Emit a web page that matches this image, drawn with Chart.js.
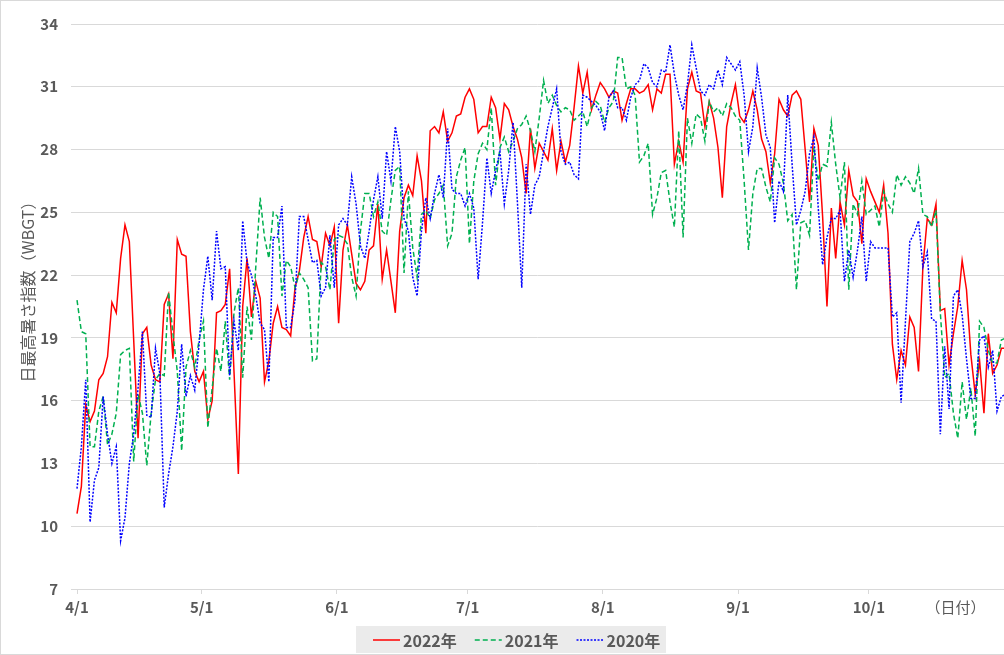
<!DOCTYPE html>
<html><head><meta charset="utf-8">
<script src="https://cdn.jsdelivr.net/npm/chart.js@4.4.1/dist/chart.umd.min.js"></script>
<style>
html,body{margin:0;padding:0;background:#fff;overflow:hidden}
#wrap{position:relative;width:1004px;height:655px}
canvas{display:block}
</style></head><body>
<div id="wrap"><canvas id="c" width="1004" height="655"></canvas></div>
<script>
// ---- data ----
const seriesNames = ['2022年', '2021年', '2020年'];
const monthLabels = ['4/1', '5/1', '6/1', '7/1', '8/1', '9/1', '10/1'];
const monthStartIndex = [0, 30, 61, 91, 122, 153, 183];
const yTickValues = [7, 10, 13, 16, 19, 22, 25, 28, 31, 34];
const xAxisTitle = '（日付）';
const yAxisTitle = '日最高暑さ指数（WBGT）';

const wbgt2022 = [
10.6,11.9,15.8,15.0,15.5,17.0,17.3,18.1,20.7,20.2,22.8,24.4,23.6,18.9,14.2,19.2,19.5,17.7,17.0,16.9,
20.6,21.1,18.0,23.7,23.0,22.9,19.3,17.4,16.9,17.4,15.1,16.0,20.2,20.3,20.6,22.3,17.4,12.5,20.5,22.8,
20.0,21.7,20.9,16.9,17.9,19.7,20.5,19.5,19.4,19.1,21.4,22.2,23.8,24.8,23.7,23.6,22.4,24.0,23.4,24.3,
19.7,23.2,24.4,23.0,21.6,21.3,21.7,23.2,23.4,25.4,21.8,23.2,21.7,20.2,24.1,25.7,26.3,25.8,27.7,26.5,
24.0,28.9,29.1,28.8,29.8,28.4,28.8,29.6,29.7,30.5,30.9,30.4,28.8,29.1,29.1,30.5,30.0,28.5,30.2,29.9,
29.1,28.5,27.6,25.9,29.0,27.1,28.3,27.9,27.5,29.0,27.0,28.4,27.4,28.2,30.0,32.0,30.7,31.7,29.9,30.6,
31.2,30.9,30.5,30.8,30.7,29.4,30.2,30.9,30.9,30.7,30.8,31.1,29.9,30.9,30.7,31.6,31.6,27.3,28.4,27.4,
30.9,31.7,30.8,30.7,29.1,30.3,29.5,28.1,25.7,29.1,30.2,31.1,29.6,29.3,29.9,30.8,29.9,28.5,27.9,26.4,
27.8,30.4,29.9,29.6,30.6,30.8,30.4,28.0,25.5,29.0,28.2,24.8,20.5,25.2,22.8,25.5,24.4,27.0,25.8,25.5,
23.5,26.6,26.0,25.5,25.0,26.3,24.0,18.7,17.0,18.4,17.7,20.0,19.5,17.4,22.4,24.7,24.4,25.4,20.3,20.4,
17.7,19.2,20.5,22.7,21.3,18.2,16.3,17.9,15.4,19.2,17.3,17.7,18.5,18.5
];
const wbgt2021 = [
20.8,19.3,19.2,13.8,13.8,15.5,16.2,13.9,14.4,15.4,18.2,18.4,18.5,13.1,16.3,15.4,12.9,15.4,17.0,17.3,
17.2,21.2,19.2,17.4,13.6,17.6,18.4,17.6,18.9,19.8,14.7,16.6,18.5,17.4,19.8,17.0,20.2,21.4,17.1,20.5,
18.9,22.4,25.7,23.8,22.8,25.0,24.8,21.0,22.7,22.4,21.4,22.1,21.8,21.4,17.9,18.0,22.6,22.4,21.3,23.7,
23.9,23.8,23.5,21.9,21.0,24.1,25.9,25.9,24.8,25.5,24.1,23.9,25.6,27.0,27.2,22.1,26.0,23.3,21.9,24.9,
25.1,24.7,25.6,25.9,26.3,23.4,24.0,26.7,27.5,28.1,23.5,26.5,27.8,28.3,28.0,30.0,26.3,28.1,28.6,27.9,
28.4,29.0,29.2,29.6,28.9,27.9,29.5,31.3,30.2,30.6,30.1,29.8,30.0,29.9,29.4,29.6,29.8,29.1,30.0,30.3,
30.1,29.3,30.0,30.3,32.4,32.4,30.9,31.0,30.6,27.4,27.7,28.3,24.9,25.7,26.9,27.0,25.5,24.3,28.9,23.8,
29.5,28.3,29.7,29.5,28.4,30.3,29.8,30.0,29.6,30.2,30.0,29.6,29.4,26.5,23.2,25.9,27.1,27.1,26.2,25.5,
27.6,27.3,26.4,24.6,24.9,21.3,24.5,24.6,23.9,28.1,26.5,27.3,27.2,29.3,27.3,25.7,27.4,21.3,25.4,24.9,
26.5,24.9,25.1,25.3,24.3,26.0,25.4,25.0,26.8,26.3,26.7,26.4,25.9,27.1,24.9,24.8,24.3,25.1,20.2,17.1,
17.3,15.4,14.2,16.9,15.1,16.6,14.3,19.8,19.5,18.4,17.8,17.8,18.9,19.0
];
const wbgt2020 = [
11.8,13.8,17.0,10.2,12.2,12.8,16.2,14.4,13.0,13.8,9.3,10.4,13.0,14.4,16.6,19.3,15.3,15.2,18.5,17.3,
10.9,12.5,13.8,15.5,18.7,16.2,17.2,16.5,18.7,21.3,22.9,20.8,24.1,22.3,22.4,17.2,19.8,18.4,24.6,22.6,
22.0,21.0,19.7,19.4,16.9,23.8,23.8,25.3,19.5,19.5,20.8,24.8,24.8,23.7,22.6,22.7,21.0,21.4,23.9,21.4,
24.4,24.7,24.4,26.7,25.4,23.4,22.8,24.1,25.6,26.7,24.7,27.9,26.5,29.1,27.9,24.7,24.1,21.9,21.0,24.1,
25.7,24.7,25.9,26.8,25.7,29.0,26.1,25.9,25.9,25.3,25.9,25.2,21.8,24.5,27.6,25.9,27.0,27.9,25.4,27.0,
29.3,25.5,21.4,27.3,24.9,26.3,26.7,27.9,29.1,30.0,30.9,27.9,27.3,27.4,26.8,26.6,30.6,30.5,30.3,30.1,
29.8,28.9,30.5,30.8,30.0,30.0,29.4,30.5,31.1,31.3,32.1,31.9,31.2,31.0,31.8,31.7,33.0,31.6,30.6,29.9,
31.1,33.0,31.9,30.8,30.6,31.1,30.9,31.8,31.1,32.4,32.1,31.8,32.2,30.6,27.9,29.1,31.9,30.5,28.7,28.1,
24.5,26.5,26.0,30.6,27.3,24.4,25.1,26.0,27.8,28.6,25.2,22.5,23.8,24.7,24.7,25.1,21.7,23.2,21.9,23.2,
24.8,21.7,23.6,23.3,23.3,23.3,23.3,20.0,20.2,15.9,19.8,23.6,24.0,24.6,22.4,23.1,19.9,19.8,14.4,18.6,
15.6,21.0,21.3,20.1,18.0,16.1,16.1,18.9,19.1,17.6,18.4,15.5,16.2,16.3
];

// ---- style / layout ----
const INK = '#595959';
const GRID = '#d9d9d9';
const FONT = "'Noto Sans CJK JP','Noto Sans',sans-serif";
const X_MIN = -1.38, X_MAX = 212.6, TICK_SHIFT = -1.4, X_TITLE_POS = 201.5;

const toPoints = arr => arr.map((v, i) => ({x: i, y: v}));
const xTickDefs = monthStartIndex.map((d, i) => ({value: i === 0 ? d : d + TICK_SHIFT, label: monthLabels[i]}));
xTickDefs.push({value: X_TITLE_POS, label: xAxisTitle, title: true});

const legendPlugin = {
  id: 'excelLegend',
  afterDraw(chart, args, o) {
    const c = chart.ctx;
    c.save();
    c.fillStyle = o.bg;
    c.fillRect(o.x, o.y, o.w, o.h);
    c.font = `bold ${o.size}px ${FONT}`;
    c.textBaseline = 'middle';
    c.textAlign = 'left';
    const cy = o.y + o.h / 2;
    let x = o.x + o.padX;
    chart.data.datasets.forEach(ds => {
      c.strokeStyle = ds.borderColor;
      c.lineWidth = ds.borderWidth;
      c.setLineDash(ds.borderDash || []);
      c.beginPath(); c.moveTo(x, cy + 0.5); c.lineTo(x + o.sample, cy + 0.5); c.stroke();
      c.setLineDash([]);
      x += o.sample + o.gap;
      c.fillStyle = INK;
      c.fillText(ds.label, x, cy + 1);
      x += c.measureText(ds.label).width + o.itemGap;
    });
    c.restore();
  }
};
const yTitlePlugin = {
  id: 'yTitle',
  afterDraw(chart, args, o) {
    const c = chart.ctx;
    c.save();
    c.translate(o.x, o.y);
    c.rotate(-Math.PI / 2);
    c.font = `${o.size}px ${FONT}`;
    c.fillStyle = INK;
    c.textAlign = 'center';
    c.textBaseline = 'middle';
    c.fillText(o.text, 0, 0);
    c.restore();
  }
};
const framePlugin = {
  id: 'frame',
  beforeDraw(chart) {
    const c = chart.ctx;
    c.save();
    c.fillStyle = '#fff';
    c.fillRect(0, 0, chart.width, chart.height);
    c.strokeStyle = GRID; c.lineWidth = 1;
    c.strokeRect(0.5, 0.5, chart.width + 5, chart.height - 1);
    c.restore();
  }
};

new Chart(document.getElementById('c'), {
  type: 'line',
  data: {
    datasets: [
      {label: seriesNames[0], data: toPoints(wbgt2022), borderColor: '#ff0000', borderWidth: 1.5, borderDash: [], order: 3},
      {label: seriesNames[1], data: toPoints(wbgt2021), borderColor: '#00b050', borderWidth: 1.5, borderDash: [5, 3], order: 2},
      {label: seriesNames[2], data: toPoints(wbgt2020), borderColor: '#0000ff', borderWidth: 1.5, borderDash: [2, 1.5], order: 1}
    ]
  },
  options: {
    responsive: false,
    animation: false,
    events: [],
    layout: {padding: {top: 24, right: 0, bottom: 0, left: 0}},
    elements: {point: {radius: 0}, line: {tension: 0, fill: false}},
    plugins: {
      legend: {display: false},
      tooltip: {enabled: false},
      excelLegend: {bg: '#ebebeb', x: 356, y: 626, w: 310, h: 27, padX: 17, sample: 27, gap: 3, itemGap: 18, size: 16},
      yTitle: {text: yAxisTitle, x: 28, y: 288, size: 16}
    },
    scales: {
      x: {
        type: 'linear', min: X_MIN, max: X_MAX,
        afterBuildTicks: s => { s.ticks = xTickDefs.map(t => ({value: t.value})); },
        afterFit: s => { s.height = 66; },
        ticks: {
          autoSkip: false, maxRotation: 0, padding: 4, color: INK,
          callback: (v, i) => xTickDefs[i].label,
          font: c => ({family: FONT, size: 15, weight: xTickDefs[c.index] && xTickDefs[c.index].title ? 'normal' : 'bold'})
        },
        grid: {drawOnChartArea: false, drawTicks: true, tickLength: 5,
               color: c => (xTickDefs[c.index] && xTickDefs[c.index].title) ? 'rgba(0,0,0,0)' : GRID},
        border: {display: true, color: GRID}
      },
      y: {
        min: 7, max: 34,
        afterBuildTicks: s => { s.ticks = yTickValues.map(v => ({value: v})); },
        afterFit: s => { s.width = 71; },
        ticks: {padding: 13, color: INK, font: {family: FONT, size: 15, weight: 'bold'}},
        grid: {color: GRID, drawTicks: false},
        border: {display: false}
      }
    }
  },
  plugins: [framePlugin, legendPlugin, yTitlePlugin]
});
</script>
</body></html>
